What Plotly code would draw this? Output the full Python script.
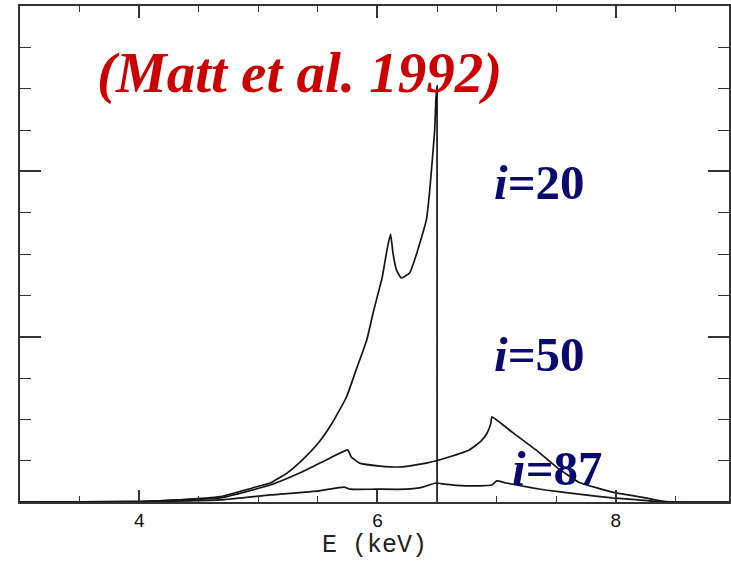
import plotly.graph_objects as go

# Energy (keV) and relative flux for the three inclinations
e_i20 = [3.0, 4.01, 4.34, 4.68, 4.95, 5.10, 5.24, 5.37, 5.51, 5.62, 5.74, 5.82, 5.91, 5.97,
         6.04, 6.08, 6.11, 6.13, 6.16, 6.20, 6.27, 6.33, 6.41, 6.435, 6.46, 6.48, 6.49, 6.5, 6.5]
f_i20 = [0.0, 0.01, 0.05, 0.13, 0.34, 0.46, 0.70, 1.02, 1.45, 1.91, 2.54, 3.19, 3.92, 4.65,
         5.44, 6.10, 6.48, 6.02, 5.61, 5.42, 5.54, 6.02, 6.82, 7.43, 8.27, 9.0, 9.73, 10.07, 0.0]

e_i50 = [3.0, 4.01, 4.34, 4.68, 5.10, 5.37, 5.60, 5.75, 5.78, 5.85, 6.02, 6.21, 6.41, 6.60,
         6.77, 6.87, 6.92, 6.95, 6.96, 7.13, 7.33, 7.50, 7.69, 7.97, 8.25, 8.42, 9.0]
f_i50 = [0.0, 0.01, 0.05, 0.10, 0.41, 0.73, 1.06, 1.26, 1.09, 0.94, 0.87, 0.85, 0.94, 1.09,
         1.26, 1.48, 1.67, 1.89, 2.06, 1.69, 1.26, 0.85, 0.48, 0.24, 0.10, 0.01, 0.0]

e_i87 = [3.0, 4.01, 4.68, 5.10, 5.51, 5.72, 5.77, 5.99, 6.24, 6.38, 6.49, 6.54, 6.74, 6.96,
         7.00, 7.08, 7.30, 7.41, 7.69, 7.97, 8.19, 8.38, 9.0]
f_i87 = [0.0, 0.01, 0.05, 0.17, 0.27, 0.36, 0.31, 0.31, 0.31, 0.36, 0.46, 0.44, 0.39, 0.41,
         0.51, 0.46, 0.34, 0.29, 0.19, 0.10, 0.05, 0.0, 0.0]

x_ticks = [4, 6, 8]
x_tick_labels = ["4", "6", "8"]
labels = ["<i>i</i>=20", "<i>i</i>=50", "<i>i</i>=87"]
label_pos = [(7.36, 7.74), (7.36, 3.58), (7.51, 0.82)]
citation = "(Matt et al. 1992)"

fig = go.Figure()
for e, f in [(e_i20, f_i20), (e_i50, f_i50), (e_i87, f_i87)]:
    fig.add_trace(go.Scatter(x=e, y=f, mode="lines",
                             line=dict(color="#151515", width=1.7, shape="spline", smoothing=0.4),
                             showlegend=False, hoverinfo="skip"))

for txt, (lx, ly) in zip(labels, label_pos):
    fig.add_annotation(x=lx, y=ly, xref="x", yref="y", text="<b>" + txt + "</b>",
                       showarrow=False, xanchor="center", yanchor="middle",
                       font=dict(family="Liberation Serif", size=49, color="#0a0a6e"))

fig.add_annotation(x=0.394, y=0.865, xref="paper", yref="paper",
                   text="<b><i>" + citation + "</i></b>", showarrow=False,
                   xanchor="center", yanchor="middle",
                   font=dict(family="Liberation Serif", size=57, color="#cc0000"))

fig.update_layout(
    width=731, height=567,
    margin=dict(l=20, r=0, t=6, b=65),
    paper_bgcolor="white", plot_bgcolor="white",
    xaxis=dict(range=[3, 8.95], tickvals=x_ticks, ticktext=x_tick_labels,
               ticks="inside", ticklen=12, tickwidth=1.5, tickcolor="#333",
               minor=dict(dtick=0.5, tick0=0, ticks="inside", ticklen=6, tickwidth=1.3, tickcolor="#333"),
               showline=True, linecolor="#333", linewidth=2, mirror="ticks",
               showgrid=False, zeroline=False,
               tickfont=dict(family="Liberation Sans", size=19, color="#111"),
               title=dict(text="E (keV)", standoff=4,
                          font=dict(family="Liberation Mono", size=25, color="#222"))),
    yaxis=dict(range=[0, 12], tick0=0, dtick=4, showticklabels=False,
               ticks="inside", ticklen=21, tickwidth=1.5, tickcolor="#333",
               minor=dict(dtick=1, tick0=0, ticks="inside", ticklen=11, tickwidth=1.3, tickcolor="#333"),
               showline=True, linecolor="#333", linewidth=2, mirror="ticks",
               showgrid=False, zeroline=False),
)

fig.write_html("out.html")
